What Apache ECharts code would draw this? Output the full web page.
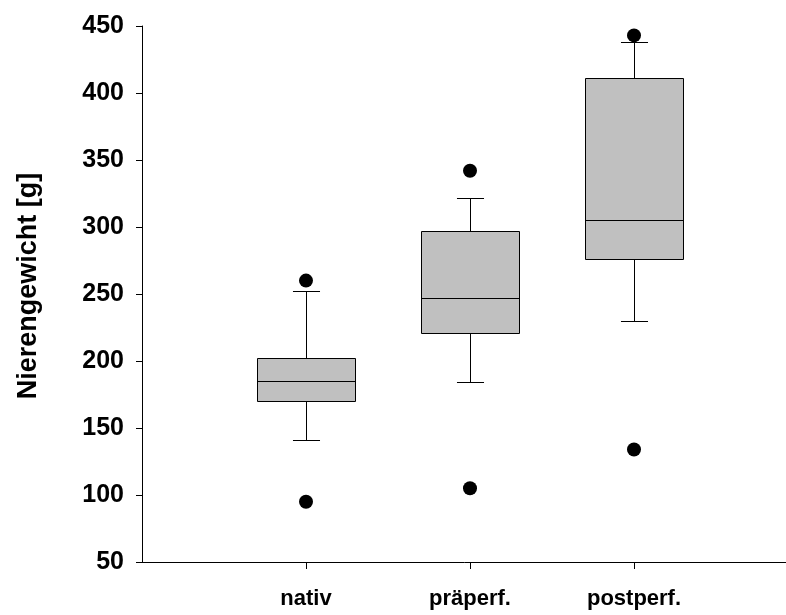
<!DOCTYPE html>
<html>
<head>
<meta charset="utf-8">
<script src="https://cdn.jsdelivr.net/npm/echarts@6/dist/echarts.min.js"></script>
<style>
html,body{margin:0;padding:0;background:#fff;}
#chart{width:786px;height:615px;}
</style>
</head>
<body>
<div id="chart"></div>
<script>
// ---- data ----
const categories = ['nativ', 'präperf.', 'postperf.'];
const whiskerLow  = [141, 184, 230];
const quartile1   = [170, 221, 276];
const medians     = [185, 247, 305];
const quartile3   = [202, 297, 411];
const whiskerHigh = [252, 322, 438];
const outliersLow  = [95, 105, 134];
const outliersHigh = [260, 342, 443];
const yTicks = { min: 50, max: 450, step: 50 };
const yTitle = 'Nierengewicht [g]';

// ---- build library structures ----
const axisCats = [''].concat(categories, ['']);
const boxData = categories.map((c, i) => [i + 1, whiskerLow[i], quartile1[i], medians[i], quartile3[i], whiskerHigh[i]]);
const outlierData = [];
categories.forEach((c, i) => {
  outlierData.push([i + 1, outliersLow[i]]);
  outlierData.push([i + 1, outliersHigh[i]]);
});

const FONT = "'Liberation Sans', Arial, Helvetica, sans-serif";
const chart = echarts.init(document.getElementById('chart'), null, { renderer: 'canvas' });

function renderBox(params, api) {
  const x = api.value(0);
  const band = api.size([1, 0])[0];
  const boxW = band * 0.6;
  const capW = band * 0.165;
  const pLow = api.coord([x, api.value(1)]);
  const pQ1 = api.coord([x, api.value(2)]);
  const pMed = api.coord([x, api.value(3)]);
  const pQ3 = api.coord([x, api.value(4)]);
  const pHigh = api.coord([x, api.value(5)]);
  const cx = Math.round(pLow[0]) + 0.5;
  const line = { stroke: '#000', lineWidth: 1 };
  const r = (v) => Math.round(v) + 0.5;
  const bx = Math.round(cx - boxW / 2) + 0.5;
  const bw = Math.round(boxW);
  return {
    type: 'group',
    children: [
      { type: 'line', shape: { x1: cx, y1: r(pQ1[1]), x2: cx, y2: r(pLow[1]) }, style: line },
      { type: 'line', shape: { x1: cx, y1: r(pQ3[1]), x2: cx, y2: r(pHigh[1]) }, style: line },
      { type: 'line', shape: { x1: cx - capW / 2, y1: r(pLow[1]), x2: cx + capW / 2, y2: r(pLow[1]) }, style: line },
      { type: 'line', shape: { x1: cx - capW / 2, y1: r(pHigh[1]), x2: cx + capW / 2, y2: r(pHigh[1]) }, style: line },
      { type: 'rect', shape: { x: bx, y: r(pQ3[1]), width: bw, height: Math.round(pQ1[1] - pQ3[1]) },
        style: { fill: '#c0c0c0', stroke: '#000', lineWidth: 1 } },
      { type: 'line', shape: { x1: bx, y1: r(pMed[1]), x2: bx + bw, y2: r(pMed[1]) }, style: line }
    ]
  };
}

chart.setOption({
  animation: false,
  backgroundColor: '#ffffff',
  grid: { left: 142, top: 26, width: 656, bottom: 53, containLabel: false, outerBoundsMode: 'none' },
  xAxis: {
    type: 'category',
    data: axisCats,
    boundaryGap: false,
    axisLine: { show: true, lineStyle: { color: '#000', width: 1 } },
    axisTick: { show: true, length: 7, interval: (i, v) => v !== '', lineStyle: { color: '#000', width: 1 } },
    axisLabel: { interval: (i, v) => v !== '', margin: 26, color: '#000', fontSize: 22, fontWeight: 'bold', fontFamily: FONT },
    splitLine: { show: false }
  },
  yAxis: {
    type: 'value',
    min: yTicks.min, max: yTicks.max, interval: yTicks.step,
    name: yTitle,
    nameLocation: 'middle',
    nameGap: 100,
    nameTextStyle: { color: '#000', fontSize: 27, fontWeight: 'bold', fontFamily: FONT, padding: [0, 0, 0, 16] },
    axisLine: { show: true, lineStyle: { color: '#000', width: 1 } },
    axisTick: { show: true, length: 6, lineStyle: { color: '#000', width: 1 } },
    axisLabel: { margin: 18, color: '#000', fontSize: 25, fontWeight: 'bold', fontFamily: FONT },
    splitLine: { show: false }
  },
  series: [
    {
      type: 'custom',
      renderItem: renderBox,
      data: boxData,
      encode: { x: 0, y: [1, 2, 3, 4, 5] },
      z: 2
    },
    {
      type: 'scatter',
      data: outlierData,
      symbol: 'circle',
      symbolSize: 14,
      itemStyle: { color: '#000', opacity: 1 },
      z: 3
    }
  ]
});
</script>
</body>
</html>
